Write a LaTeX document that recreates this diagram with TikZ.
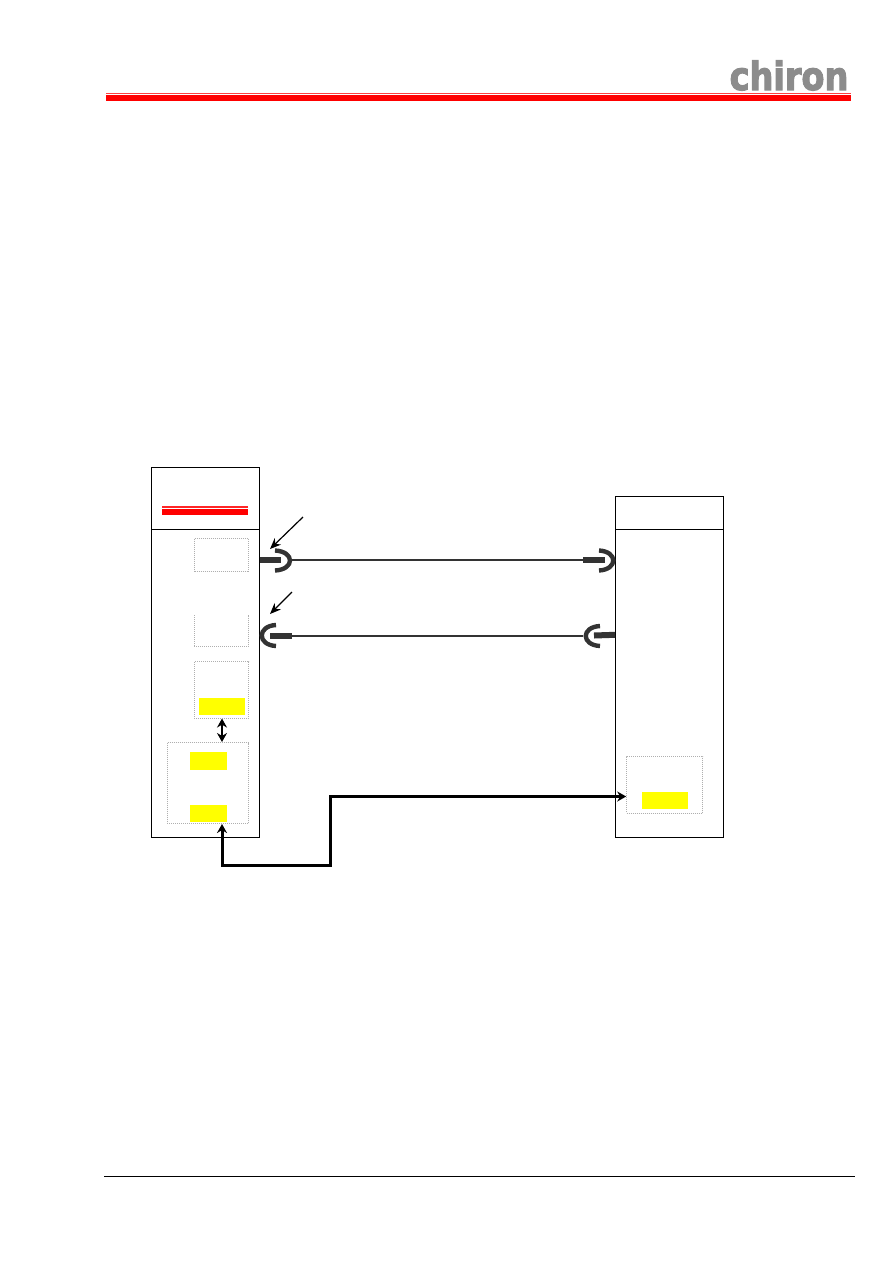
\documentclass[tikz,border=0pt]{standalone}
\usepackage{xcolor}
\usepackage{fontspec}
\usepackage{tikz}
\usetikzlibrary{arrows.meta}
\newfontfamily\logofont[FakeBold=3]{DejaVu Sans Bold}
\definecolor{barred}{RGB}{255, 0, 0}
\definecolor{plugcolor}{RGB}{51, 51, 51}
\definecolor{dotcolor}{RGB}{175, 175, 175}
\definecolor{logocolor}{RGB}{140, 140, 140}
\definecolor{markyellow}{RGB}{255, 255, 0}
\tikzset{
    unitbox/.style={draw=black, line width=1pt, fill=white, inner sep=0pt},
    dotline/.style={draw=dotcolor, densely dotted, line width=1pt},
    dotbox/.style={dotline, inner sep=0pt},
    markbox/.style={fill=markyellow, inner sep=0pt},
    redbar/.style={fill=barred, inner sep=0pt},
    plugcup/.style={draw=plugcolor, line width=4.4pt},
    plugstem/.style={draw=plugcolor, line width=6pt},
    plugwire/.style={draw=plugcolor, line width=1.8pt},
    pointer/.style={draw=black, line width=1.2pt, -{Stealth[length=11pt, width=9pt]}},
    busline/.style={draw=black, line width=3pt, {Stealth[length=9pt, width=10pt]}-{Stealth[length=9pt, width=10pt]}},
}
\begin{document}
\begin{tikzpicture}[x=1pt, y=-1pt, >=Stealth]
        \useasboundingbox (0,0) rectangle (893,1263);

        % Header and footer
        \node[logocolor, font=\logofont\fontsize{39}{39}\selectfont, xscale=0.86, anchor=base, inner sep=0pt] (logo) at (789,90) {chiron};
        \node[redbar, minimum width=745pt, minimum height=1.2pt, opacity=0.75] (headThin) at (478.5,93.6) {};
        \node[redbar, minimum width=745pt, minimum height=6pt] (headBar) at (478.5,98) {};
        \coordinate (footL) at (104,1176);
        \coordinate (footR) at (855,1176);
        \draw[black, line width=1pt] (footL) -- (footR);

        % Left unit
        \node[unitbox, minimum width=108pt, minimum height=62pt] (leftHead) at (205.5,498) {};
        \node[unitbox, minimum width=108pt, minimum height=308pt] (leftBody) at (205.5,683) {};
        \node[redbar, minimum width=86pt, minimum height=1.5pt, opacity=0.85] (leftThin) at (205,506.8) {};
        \node[redbar, minimum width=86pt, minimum height=6pt] (leftBar) at (205,512) {};
        \node[dotbox, minimum width=54pt, minimum height=33.5pt] (boxA) at (221.5,554.8) {};
        \node[inner sep=0pt, minimum width=54pt, minimum height=31.5pt] (boxB) at (221.5,631) {};
        \draw[dotline] (boxB.north west) -- (boxB.south west) -- (boxB.south east) -- (boxB.north east);
        \node[dotbox, minimum width=54.5pt, minimum height=56.5pt] (boxC) at (221.7,689.8) {};
        \node[markbox, minimum width=46pt, minimum height=17pt] (markC) at (222,706.5) {};
        \node[dotbox, minimum width=81.5pt, minimum height=81pt] (boxD) at (208.2,783) {};
        \node[markbox, minimum width=37pt, minimum height=18pt] (markD) at (208.5,761) {};
        \node[markbox, minimum width=37pt, minimum height=17pt] (markE) at (208.5,813.5) {};

        % Right unit
        \node[unitbox, minimum width=108pt, minimum height=33pt] (rightHead) at (669.3,512.8) {};
        \node[unitbox, minimum width=108pt, minimum height=308pt] (rightBody) at (669.3,683.3) {};
        \node[dotbox, minimum width=76pt, minimum height=57pt] (boxF) at (664.7,784.8) {};
        \node[markbox, minimum width=46pt, minimum height=17pt] (markF) at (665,800.5) {};

        % Upper link
        \coordinate (upLeftStem) at (259.5,560);
        \coordinate (upLeftEnd) at (281,560);
        \coordinate (upLeftCup) at (291,560);
        \coordinate (upRightCup) at (583,560);
        \coordinate (upRightEnd) at (605,560);
        \draw[plugstem] (upLeftStem) -- (upLeftEnd);
        \draw[plugcup] (275,550.5) .. controls (295,551.5) and (295,569.5) .. (275,570.5);
        \draw[plugwire] (upLeftCup) -- (upRightCup);
        \draw[plugstem] (upRightCup) -- (upRightEnd);
        \draw[plugcup] (599,550.5) .. controls (618,551.5) and (618,569.5) .. (599,570.5);

        % Lower link
        \coordinate (loLeftEnd) at (270,636);
        \coordinate (loLeftCup) at (292,636);
        \coordinate (loRightCup) at (583,636);
        \coordinate (loRightEnd) at (594,635.5);
        \coordinate (loRightStem) at (615,634.8);
        \draw[plugstem] (loLeftEnd) -- (loLeftCup);
        \draw[plugcup] (276,625) .. controls (257,626) and (257,645) .. (276,646);
        \draw[plugwire] (loLeftCup) -- (loRightCup);
        \draw[plugstem] (loRightEnd) -- (loRightStem);
        \draw[plugcup] (600,626) .. controls (581,627) and (581,645) .. (600,646);

        % Pointers
        \coordinate (tailA) at (303,517);
        \coordinate (tipA) at (270,549);
        \coordinate (tailB) at (292,592);
        \coordinate (tipB) at (270,614);
        \draw[pointer] (tailA) -- (tipA);
        \draw[pointer] (tailB) -- (tipB);

        % Bus lines
        \draw[black, line width=2.4pt, {Stealth[length=9pt, width=10pt]}-{Stealth[length=9pt, width=10pt]}] (boxC.south -| markC) -- (boxD.north -| markC);
        \coordinate (busA) at (222,865);
        \coordinate (busB) at (330.5,865);
        \coordinate (busC) at (330.5,796.5);
        \draw[busline] (boxD.south -| busA) -- (busA) -- (busB) -- (busC) -- (busC -| boxF.west);

    \end{tikzpicture}
\end{document}
